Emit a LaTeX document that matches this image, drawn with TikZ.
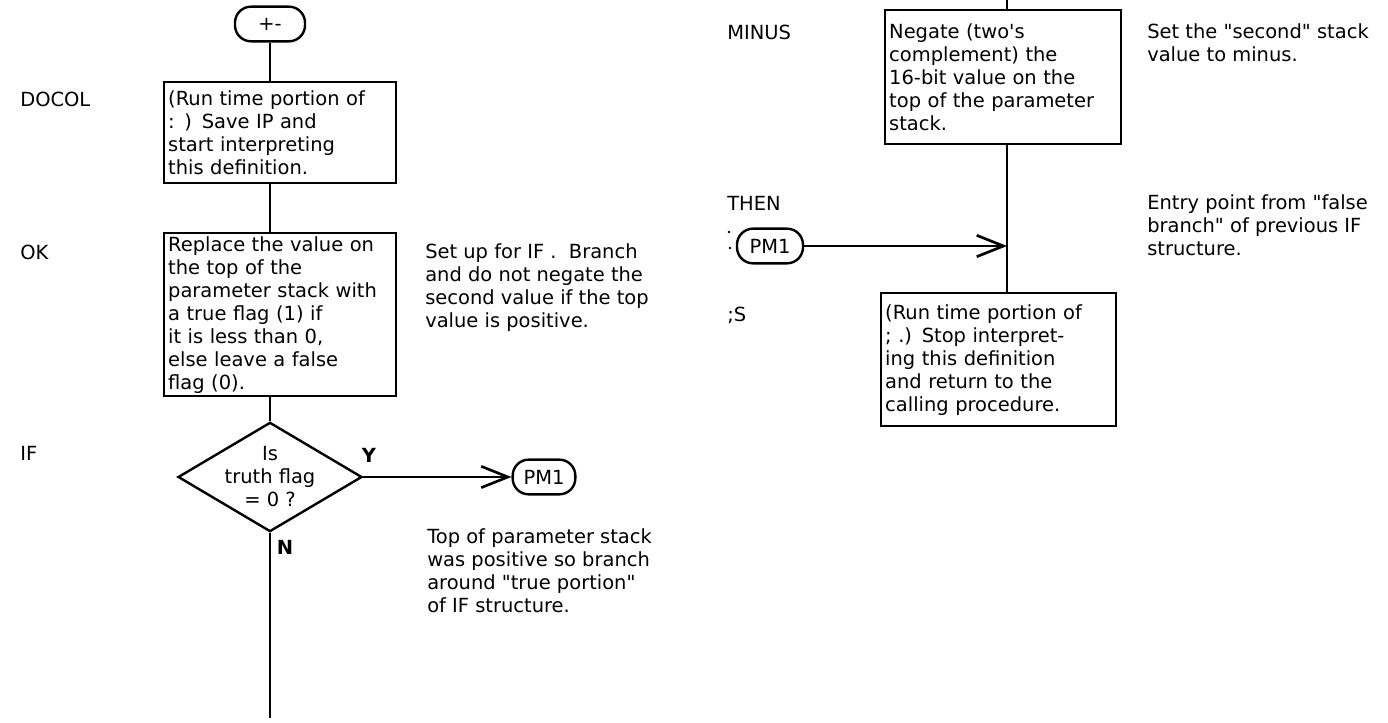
\documentclass[tikz,border=0pt]{standalone}
\usepackage{fontspec}
\setmainfont{DejaVu Sans}[Ligatures=TeXOff]
\usetikzlibrary{arrows.meta,shapes.geometric}
\begin{document}
\begin{tikzpicture}[x=0.75pt,y=-0.75pt,
  every node/.style={font=\fontsize{14.6pt}{17.25pt}\selectfont},
  line/.style={line width=2pt},
  arr/.style={line width=2pt,-{Straight Barb[length=20pt,width=16pt]}},
  procbox/.style={draw,line width=1.8pt,anchor=north west,align=left,inner xsep=3pt,inner ysep=0pt},
  term/.style={draw,line width=1.8pt,rounded corners=12pt,minimum height=26pt,inner xsep=0pt},
  dia/.style={draw,diamond,line width=1.8pt,minimum width=138pt,minimum height=82pt,inner sep=0pt},
  lbl/.style={anchor=west,inner sep=0pt},
  note/.style={anchor=north west,align=left,inner sep=0pt},
  yn/.style={anchor=center,inner sep=0pt,font=\fontsize{14.6pt}{17pt}\selectfont\bfseries},
  speck/.style={circle,fill,inner sep=0pt,minimum size=2.2pt},
]
\useasboundingbox (0,0) rectangle (1388,723);

% ---------- left column ----------
\node[term,minimum width=52.5pt] (start) at (270,24) {+-};
\node[procbox,text width=168pt,minimum height=75.75pt] (docol) at (163,81)
  {(Run time portion of\\: ) Save IP and\\start interpreting\\this definition.};
\node[procbox,text width=168pt,minimum height=122.25pt] (zless) at (163,232)
  {Replace the value on\\the top of the\\parameter stack with\\a true flag (1) if\\it is less than 0,\\else leave a false\\flag (0).};
\node[dia] (if) at (270,477) {};
\node[align=center,inner sep=0pt,font=\fontsize{14.6pt}{17.25pt}\selectfont] (iftext) at (if) {Is\\truth flag\\= 0 ?};
\node[term,minimum width=47pt] (pm1a) at (544,477) {PM1};
\coordinate (endA) at (270,718);

\draw[line] (start.south) -- (start.south |- docol.north);
\draw[line] (start.south |- docol.south) -- (start.south |- zless.north);
\draw[line] (start.south |- zless.south) -- (if.north);
\draw[arr] (if.east) -- (pm1a.west);
\draw[line] (if.south) -- (endA);

\node[yn] (ylab) at (369,455) {Y};
\node[yn] (nlab) at (285,547) {N};

\node[lbl] (l1) at (20,99) {DOCOL};
\node[lbl] (l2) at (20,252) {OK};
\node[lbl] (l3) at (20,453) {IF};

\node[note] (n1) at (425,243) {Set up for IF .\ \ Branch\\and do not negate the\\second value if the top\\value is positive.};
\node[note] (n2) at (427,528) {Top of parameter stack\\was positive so branch\\around "true portion"\\of IF structure.};

% ---------- right column ----------
\coordinate (topR) at (1007,0);
\node[procbox,text width=171pt,minimum height=100.5pt] (minus) at (884,9)
  {Negate (two's\\complement) the\\16-bit value on the\\top of the parameter\\stack.};
\node[term,minimum width=49.5pt] (pm1b) at (770,246) {PM1};
\node[procbox,text width=170pt,minimum height=99.75pt] (semis) at (880,292)
  {(Run time portion of\\; .) Stop interpret-\\ing this definition\\and return to the\\calling procedure.};

\draw[line] (topR) -- (topR |- minus.north);
\draw[line] (minus.south -| topR) -- (semis.north -| topR);
\draw[arr] (pm1b.east) -- (pm1b.east -| topR);

\node[speck] (dot1) at (729,232) {};
\node[speck] (dot2) at (730,248) {};

\node[lbl] (r1) at (727,32) {MINUS};
\node[lbl] (r2) at (727,203) {THEN};
\node[lbl] (r3) at (727,315) {;S};

\node[note] (n3) at (1147,23) {Set the "second" stack\\value to minus.};
\node[note] (n4) at (1147,194) {Entry point from "false\\branch" of previous IF\\structure.};
\end{tikzpicture}
\end{document}
